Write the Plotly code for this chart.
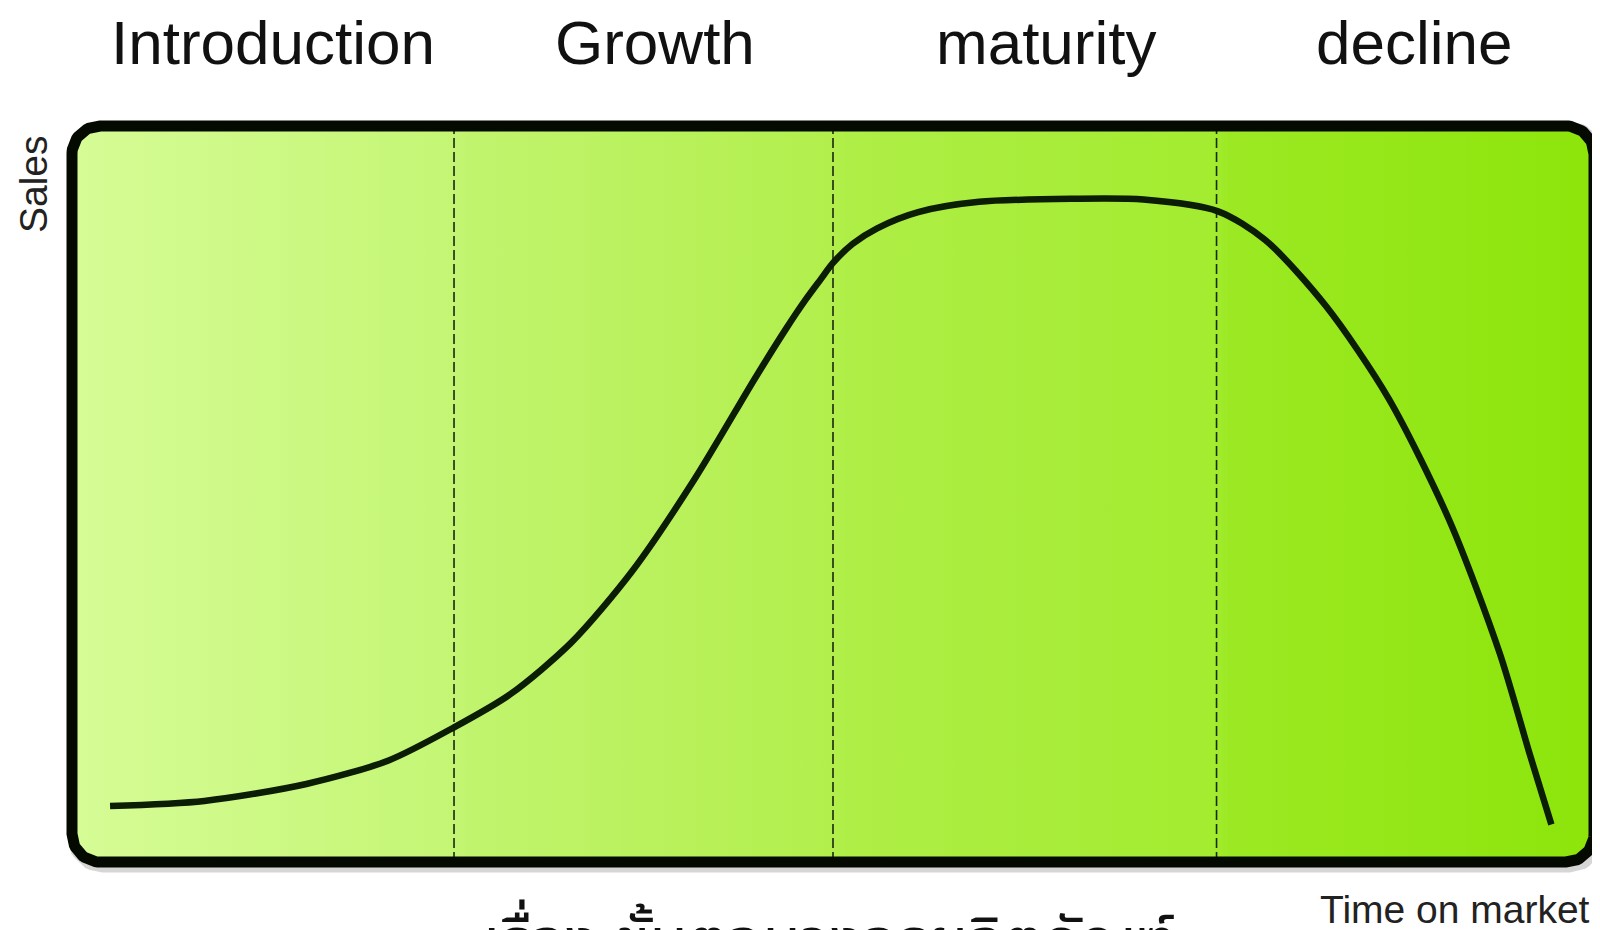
import numpy as np
import plotly.graph_objects as go

# ---- data ----
stages = ["Introduction", "Growth", "maturity", "decline"]
stage_label_x = [13.2, 38.3, 64.0, 88.2]
stage_bounds = [25.1, 50.0, 75.2]

time = [2.5, 8.7, 15.4, 20.8, 25.1, 28.8, 32.8, 36.8, 40.9, 44.9, 46.9, 48.2, 49.2, 50.0,
        51.3, 52.9, 55.6, 59.6, 65.7, 70.4, 75.3, 78.4, 82.4, 86.5, 90.5, 93.8, 95.8, 97.2]
sales = [7.6, 8.3, 10.6, 13.8, 18.3, 22.8, 29.8, 39.5, 52.0, 65.8, 72.4, 76.4, 79.2, 81.4,
         84.0, 86.1, 88.3, 89.7, 90.1, 90.0, 88.4, 84.5, 75.5, 63.0, 46.4, 28.4, 14.5, 5.1]

y_title = "Sales"
x_title = "Time on market"
caption = "เรื่อง ขั้นตอนวงจรผลิตภัณฑ์"

# ---- geometry (page pixels; the page body adds an 8px offset) ----
OFF = 8
W, H = 1600 - OFF, 930 - OFF
# panel border centre-line in page pixels
PX0, PX1, PY0, PY1 = 72, 1594, 126, 862
# plot area in figure pixels
PL, PR, PT, PB = 44, W, 98, 874
ML, MR, MT, MB = PL, W - PR, PT, H - PB
sx = (PX1 - PX0) / 100.0
sy = (PY1 - PY0) / 100.0
x_range = [-((PX0 - OFF) - PL) / sx, 100 + (PR - (PX1 - OFF)) / sx]
y_range = [-(PB - (PY1 - OFF)) / sy, 100 + ((PY0 - OFF) - PT) / sy]

R = 28
rx, ry = R / sx, R / sy


def rounded_rect(x0, x1, y0, y1, rx, ry, n=20):
    xs, ys = [], []
    corners = [
        (x1 - rx, y1 - ry, 0, 90),
        (x0 + rx, y1 - ry, 90, 180),
        (x0 + rx, y0 + ry, 180, 270),
        (x1 - rx, y0 + ry, 270, 360),
    ]
    for cx, cy, a0, a1 in corners:
        t = np.radians(np.linspace(a0, a1, n))
        xs.extend(cx + rx * np.cos(t))
        ys.extend(cy + ry * np.sin(t))
    xs.append(xs[0])
    ys.append(ys[0])
    return xs, ys


bx, by = rounded_rect(0, 100, 0, 100, rx, ry)

fig = go.Figure()

# shadow
fig.add_trace(go.Scatter(x=[v + 3 / sx for v in bx], y=[v - 3 / sy for v in by],
                         mode="lines", line=dict(color="rgba(0,0,0,0.16)", width=15),
                         hoverinfo="skip", showlegend=False))

# gradient background panel
fig.add_trace(go.Scatter(
    x=bx, y=by, mode="lines", fill="toself",
    fillgradient=dict(type="horizontal",
                      colorscale=[[0.0, "#d6fc96"], [0.25, "#c4f674"], [0.26, "#c1f46e"],
                                  [0.5, "#b2ef4c"], [0.51, "#afee46"], [0.75, "#a3ec30"],
                                  [0.76, "#9ce923"], [1.0, "#8de50b"]]),
    line=dict(color="rgba(0,0,0,0)", width=0),
    hoverinfo="skip", showlegend=False))

# dashed stage boundaries
for b in stage_bounds:
    fig.add_trace(go.Scatter(x=[b, b], y=[0, 100], mode="lines",
                             line=dict(color="#1a2a10", width=1.6, dash="10px,4px"),
                             hoverinfo="skip", showlegend=False))

# sales curve
fig.add_trace(go.Scatter(x=time, y=sales, mode="lines",
                         line=dict(color="#0b1d04", width=6.5, shape="spline", smoothing=0.8),
                         hoverinfo="skip", showlegend=False))

# border
fig.add_trace(go.Scatter(x=bx, y=by, mode="lines",
                         line=dict(color="#050a00", width=11),
                         hoverinfo="skip", showlegend=False))


def py(pix):
    # page pixel (from top) -> paper y
    return (PB - (pix - OFF)) / (PB - PT)


def pxp(pix):
    return ((pix - OFF) - PL) / (PR - PL)


font_main = "Liberation Sans, Arial, sans-serif"
for name, xv in zip(stages, stage_label_x):
    fig.add_annotation(x=xv, y=py(42), xref="x", yref="paper", text=name,
                       showarrow=False, xanchor="center", yanchor="middle",
                       font=dict(family=font_main, size=62, color="#111111"))

fig.add_annotation(x=pxp(33), y=py(184), xref="paper", yref="paper", text=y_title,
                   textangle=-90, showarrow=False, xanchor="center", yanchor="middle",
                   font=dict(family=font_main, size=39, color="#222222"))

fig.add_annotation(x=pxp(1455), y=py(909), xref="paper", yref="paper", text=x_title,
                   showarrow=False, xanchor="center", yanchor="middle",
                   font=dict(family=font_main, size=39, color="#222222"))

fig.add_annotation(x=pxp(829), y=py(894), xref="paper", yref="paper", text=caption,
                   showarrow=False, xanchor="center", yanchor="top",
                   font=dict(family="Noto Sans Thai, Noto Sans, Tahoma, sans-serif", size=62,
                             color="#111111"))

fig.update_xaxes(range=x_range, visible=False, fixedrange=True)
fig.update_yaxes(range=y_range, visible=False, fixedrange=True)
fig.update_layout(width=W, height=H, autosize=False,
                  margin=dict(l=ML, r=MR, t=MT, b=MB, pad=0),
                  paper_bgcolor="white", plot_bgcolor="white",
                  showlegend=False)

fig.write_html("out.html", config={"displayModeBar": False})
